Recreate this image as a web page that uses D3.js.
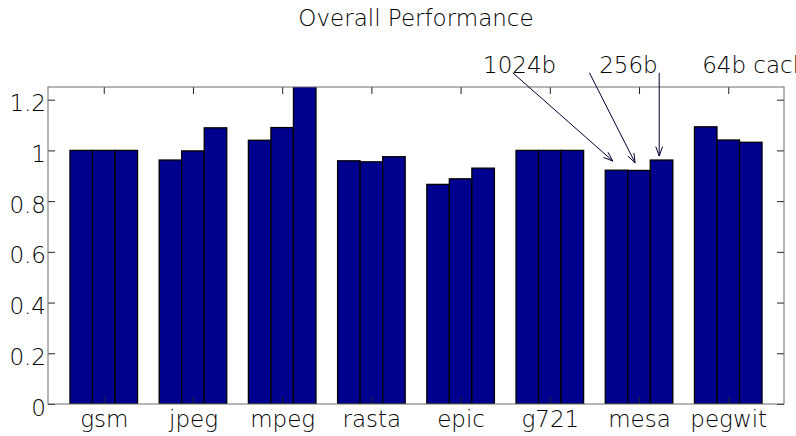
<!DOCTYPE html>
<html>
<head>
<meta charset="utf-8">
<script src="https://cdn.jsdelivr.net/npm/d3@7"></script>
<style>
  body { margin: 0; background: #fff; }
  text { font-family: "DejaVu Sans", sans-serif; font-weight: 200; fill: #000; }
</style>
</head>
<body>
<svg id="chart" width="796" height="436"></svg>
<script>
// data
const categories = ["gsm", "jpeg", "mpeg", "rasta", "epic", "g721", "mesa", "pegwit"];
const cache1024 = [1.0, 0.962, 1.040, 0.959, 0.866, 1.0, 0.922, 1.093];
const cache256 = [1.0, 0.998, 1.090, 0.955, 0.888, 1.0, 0.921, 1.041];
const cache64 = [1.0, 1.089, 1.270, 0.975, 0.930, 1.0, 0.962, 1.032];
const seriesNames = ["1024b", "256b", "64b cache"];
const yTicks = [0, 0.2, 0.4, 0.6, 0.8, 1, 1.2];

// annotation labels (data units): text x, arrow start x/y, arrow tip x/y
const noteTextX = [5.252, 6.553, 7.708];
const noteY = 1.306;
const noteFromX = [5.585, 6.444, 7.226];
const noteToX = [6.706, 6.956, 7.226];
const noteToY = [0.958, 0.951, 0.978];

const svg = d3.select("#chart");
const width = +svg.attr("width");
const height = +svg.attr("height");
const margin = { top: 87, right: 12, bottom: 32, left: 48 };
const plotW = width - margin.left - margin.right;
const plotH = height - margin.top - margin.bottom;

const chartArea = svg.append("g")
  .attr("transform", `translate(${margin.left},${margin.top})`);

const xScale = d3.scaleLinear().domain([0.375, 8.625]).range([0, plotW]);
const yScale = d3.scaleLinear().domain([0, 1.25]).range([plotH, 0]);

const barW = 0.2525; // in group units
const series = [cache1024, cache256, cache64];

svg.append("defs").append("clipPath").attr("id", "plotClip")
  .append("rect").attr("width", plotW).attr("height", plotH);

const bars = chartArea.append("g").attr("clip-path", "url(#plotClip)");
series.forEach((vals, s) => {
  bars.selectAll(`rect.s${s}`)
    .data(vals)
    .enter()
    .append("rect")
    .attr("class", `s${s}`)
    .attr("x", (d, i) => xScale(i + 1 + (s - 1) * barW - barW / 2))
    .attr("width", xScale(barW) - xScale(0))
    .attr("y", d => yScale(d))
    .attr("height", d => yScale(0) - yScale(d))
    .attr("fill", "#00008f")
    .attr("stroke", "#000")
    .attr("stroke-width", 1.3);
});

// axes with inward ticks
const fontSize = 23;
const styleAxis = g => {
  g.select(".domain").remove();
  g.selectAll(".tick line").attr("stroke", "#222");
  g.selectAll("text").attr("font-size", fontSize).attr("font-family", null).attr("fill", "#000");
};

chartArea.append("g")
  .call(d3.axisLeft(yScale).tickValues(yTicks).tickSize(-7).tickPadding(2)
    .tickFormat(d => d3.format("")(+d.toFixed(1))))
  .call(styleAxis)
  .selectAll("text").attr("dy", "0.48em");

chartArea.append("g")
  .attr("transform", `translate(${plotW},0)`)
  .call(d3.axisRight(yScale).tickValues(yTicks).tickSize(-7).tickFormat(""))
  .call(styleAxis);

chartArea.append("g")
  .attr("transform", `translate(0,${plotH})`)
  .call(d3.axisBottom(xScale).tickValues(d3.range(1, 9)).tickSize(-7).tickPadding(7)
    .tickFormat(d => categories[d - 1]))
  .call(styleAxis);

chartArea.append("g")
  .call(d3.axisTop(xScale).tickValues(d3.range(1, 9)).tickSize(-7).tickFormat(""))
  .call(styleAxis);

// box
chartArea.append("rect")
  .attr("width", plotW).attr("height", plotH)
  .attr("fill", "none").attr("stroke", "#6a6a6a").attr("stroke-width", 1);

// title
svg.append("text")
  .attr("x", margin.left + plotW / 2)
  .attr("y", 26)
  .attr("text-anchor", "middle")
  .attr("font-size", fontSize)
  .text("Overall Performance");

// annotations with open arrowheads
const notes = chartArea.append("g");
seriesNames.forEach((name, i) => {
  notes.append("text")
    .attr("x", xScale(noteTextX[i]))
    .attr("y", yScale(noteY))
    .attr("font-size", fontSize)
    .text(name);
  const x0 = xScale(noteFromX[i]), y0 = yScale(noteY);
  const x1 = xScale(noteToX[i]), y1 = yScale(noteToY[i]);
  notes.append("line")
    .attr("x1", x0).attr("y1", y0).attr("x2", x1).attr("y2", y1)
    .attr("stroke", "#000033").attr("stroke-width", 1);
  const ang = Math.atan2(y1 - y0, x1 - x0);
  const len = 10, spread = 0.35;
  const p = d3.path();
  p.moveTo(x1 - len * Math.cos(ang - spread), y1 - len * Math.sin(ang - spread));
  p.lineTo(x1, y1);
  p.lineTo(x1 - len * Math.cos(ang + spread), y1 - len * Math.sin(ang + spread));
  notes.append("path")
    .attr("d", p.toString())
    .attr("fill", "none").attr("stroke", "#000033").attr("stroke-width", 1);
});
</script>
</body>
</html>
